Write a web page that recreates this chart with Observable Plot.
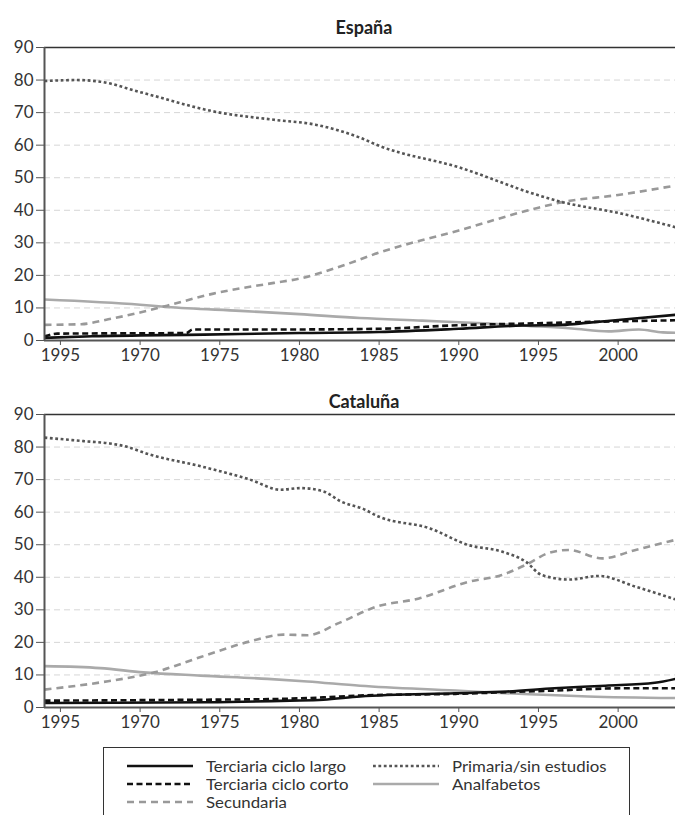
<!DOCTYPE html>
<html>
<head>
<meta charset="utf-8">
<script src="https://cdn.jsdelivr.net/npm/d3@7"></script>
<script src="https://cdn.jsdelivr.net/npm/@observablehq/plot@0.6"></script>
<style>
  html, body { margin: 0; padding: 0; background: #fff; }
  body { width: 675px; height: 815px; position: relative; overflow: hidden; font-family: Lato, "Open Sans", sans-serif; color: #333; }
  .title { position: absolute; left: 0; width: 728px; text-align: center; font-weight: bold; font-size: 18px; line-height: 20px; color: #222; }
  .panel { position: absolute; left: 0; }
  .legend { position: absolute; left: 103px; top: 747px; width: 527px; height: 90px; border: 1px solid #333; box-sizing: border-box; }
  .lg { position: absolute; height: 18px; font-size: 15px; line-height: 18px; color: #333; white-space: nowrap; }
  .lg svg { position: absolute; left: 0; top: 4px; }
  .lg span { position: absolute; left: 79px; top: 0; line-height: 18px; display: inline-block; transform: scaleX(1.12); transform-origin: 0 50%; }
</style>
</head>
<body>
<script>
// ---------- data ----------
const seriesNames = ["Terciaria ciclo largo", "Terciaria ciclo corto", "Secundaria", "Primaria/sin estudios", "Analfabetos"];
const tickYears = [1965, 1970, 1975, 1980, 1985, 1990, 1995, 2000];
const tickLabels = ["1995", "1970", "1975", "1980", "1985", "1990", "1995", "2000"];
const yTicks = [0, 10, 20, 30, 40, 50, 60, 70, 80, 90];
const gridTicks = [10, 20, 30, 40, 50, 60, 70, 80];

// España  [year, %]
const esLargo = [[1964,0.8],[1967,1.3],[1974,1.8],[1980,2.3],[1985,2.6],[1990,3.6],[1994,4.6],[1996.5,4.8],[1998,5.4],[2000,6.3],[2003.6,7.9]];
const esCorto = [[1964,1.3],[1964.8,2.1],[1972.9,2.3],[1973.3,3.4],[1980,3.4],[1985,3.6],[1990,4.7],[1995,5.3],[2000,5.9],[2003.6,6.2]];
const esSecundaria = [[1964,4.8],[1966.3,5.0],[1968,6.5],[1970,8.6],[1971.7,10.7],[1974.6,14.4],[1978.4,17.7],[1980,19.0],[1982.6,22.8],[1985,27.0],[1990,33.8],[1995,40.8],[1996.5,42.5],[2000,44.7],[2003.6,47.6]];
const esPrimaria = [[1964,79.7],[1966,80.0],[1967.5,79.5],[1970,76.3],[1975,70.0],[1978.4,67.8],[1981,66.3],[1983.8,62.3],[1985,59.8],[1990,53.2],[1995,44.6],[1996.5,42.5],[2000,39.2],[2003.6,34.8]];
const esAnalfabetos = [[1964,12.6],[1970,11.0],[1971.7,10.3],[1976.3,9.1],[1980,8.1],[1983.8,6.9],[1987.7,6.1],[1991.9,5.2],[1994.4,4.5],[1997.1,3.7],[1999.4,2.8],[2001.3,3.4],[2002.8,2.5],[2003.6,2.4]];

// Cataluña  [year, %]
const catLargo = [[1964,1.4],[1974.2,1.6],[1979.4,2.1],[1981.5,2.4],[1983.8,3.4],[1989.8,4.4],[1993,4.9],[1996,5.9],[1999.2,6.7],[2002.3,7.6],[2003.6,8.8]];
const catCorto = [[1964,2.1],[1974.2,2.4],[1978.4,2.6],[1981.5,3.1],[1983.8,3.7],[1989.8,4.2],[1993,4.7],[1996,5.2],[2000.2,5.9],[2003.6,5.9]];
const catSecundaria = [[1964,5.5],[1967.5,7.7],[1970.9,10.8],[1973.8,15.5],[1976.9,20.3],[1979,22.4],[1980.5,22.2],[1982.5,26.0],[1984.8,30.9],[1987.5,33.5],[1990.6,38.6],[1992.7,40.7],[1994.4,44.3],[1995.6,47.4],[1996.9,48.4],[1999,45.8],[2001.1,48.4],[2003.6,51.5]];
const catPrimaria = [[1964,82.9],[1966.5,81.8],[1968.1,81.1],[1969,80.3],[1970.6,77.7],[1973.8,74.1],[1976.9,70.0],[1978.8,66.9],[1980.1,67.4],[1981.5,66.4],[1982.6,63.3],[1984,61.0],[1985,58.6],[1988.2,55.0],[1990.6,49.9],[1992.7,47.9],[1994.2,44.8],[1995.2,40.7],[1996.9,39.3],[1998.8,40.4],[2001.1,37.1],[2003.6,33.2]];
const catAnalfabetos = [[1964,12.7],[1967.5,12.1],[1970.2,10.8],[1973.8,9.8],[1978,8.8],[1980.5,8.0],[1983.8,6.7],[1989.8,5.2],[1992.9,4.4],[1998.1,3.4],[2003.6,2.9]];

// ---------- styles ----------
const seriesStyles = [
  {stroke: "#111", dash: null},
  {stroke: "#111", dash: "6,3.5"},
  {stroke: "#999", dash: "7,5"},
  {stroke: "#555", dash: "2.8,2.6"},
  {stroke: "#aaa", dash: null}
];

function panel(seriesData) {
  const lineMarks = seriesData.map((arr, i) => {
    const rows = arr.map(([year, value]) => ({year, value, serie: seriesNames[i]}));
    const opts = {x: "year", y: "value", stroke: seriesStyles[i].stroke, strokeWidth: 2.6, curve: "monotone-x", strokeLinecap: "butt", strokeLinejoin: "round"};
    if (seriesStyles[i].dash) opts.strokeDasharray = seriesStyles[i].dash;
    return Plot.line(rows, opts);
  });
  const order = [4, 2, 3, 1, 0];
  return Plot.plot({
    width: 675, height: 333,
    marginLeft: 44, marginRight: 0, marginTop: 10, marginBottom: 30,
    style: {fontFamily: "Lato, 'Open Sans', sans-serif", fontSize: "17px", color: "#333", background: "transparent", overflow: "visible"},
    x: {domain: [1964, 2003.6]},
    y: {domain: [0, 90]},
    marks: [
      Plot.ruleY(gridTicks, {stroke: "#d6d6d6", strokeDasharray: "6,4", strokeWidth: 1}),
      ...order.map(i => lineMarks[i]),
      Plot.ruleY([90], {stroke: "#333", strokeWidth: 1.5}),
      Plot.ruleY([0], {stroke: "#555", strokeWidth: 2}),
      Plot.ruleX([1964], {stroke: "#555", strokeWidth: 2}),
      Plot.axisY({ticks: yTicks, tickSize: 8, tickPadding: 3, label: null, stroke: "#555", fill: "#333"}),
      Plot.axisX({ticks: tickYears, tickFormat: d => tickLabels[tickYears.indexOf(d)], tickSize: 5, tickPadding: 3, label: null, stroke: "#555", fill: "#333"})
    ]
  });
}

function addTitle(text, top) {
  const d = document.createElement("div");
  d.className = "title";
  d.style.top = top + "px";
  d.textContent = text;
  document.body.appendChild(d);
}
function addPanel(chart, top) {
  const w = document.createElement("div");
  w.className = "panel";
  w.style.top = top + "px";
  w.appendChild(chart);
  document.body.appendChild(w);
}

addTitle("España", 17);
addPanel(panel([esLargo, esCorto, esSecundaria, esPrimaria, esAnalfabetos]), 37);
addTitle("Cataluña", 391);
addPanel(panel([catLargo, catCorto, catSecundaria, catPrimaria, catAnalfabetos]), 404);

// legend
const legend = document.createElement("div");
legend.className = "legend";
document.body.appendChild(legend);
const legendPos = [[23, 9], [23, 27], [23, 45], [269, 9], [269, 27]];
seriesNames.forEach((name, i) => {
  const e = document.createElement("div");
  e.className = "lg";
  e.style.left = legendPos[i][0] + "px";
  e.style.top = legendPos[i][1] + "px";
  const st = seriesStyles[i];
  e.innerHTML = `<svg width="66" height="10"><line x1="0" x2="66" y1="5" y2="5" stroke="${st.stroke}" stroke-width="2.6" stroke-linecap="butt" ${st.dash ? `stroke-dasharray="${st.dash}"` : ""}/></svg><span>${name}</span>`;
  legend.appendChild(e);
});
</script>
</body>
</html>
